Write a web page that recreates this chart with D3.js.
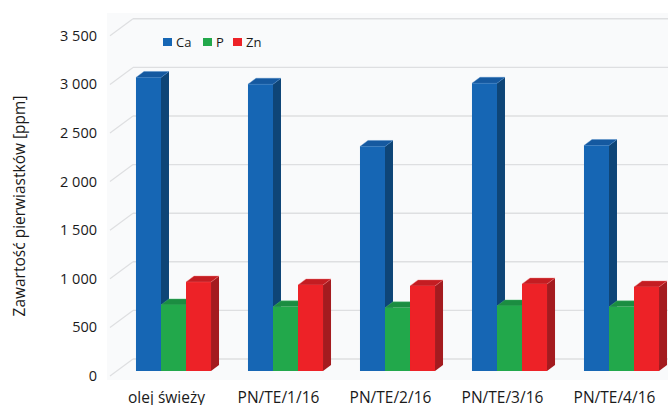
<!DOCTYPE html>
<html>
<head>
<meta charset="utf-8">
<script src="https://cdn.jsdelivr.net/npm/d3@7"></script>
<style>
  html, body { margin: 0; padding: 0; background: #ffffff; }
  svg { display: block; font-family: "Open Sans", "DejaVu Sans", sans-serif; }
</style>
</head>
<body>
<svg id="chart" width="668" height="405"></svg>
<script>
// Element content of oil samples [ppm]
const categories = ["olej świeży", "PN/TE/1/16", "PN/TE/2/16", "PN/TE/3/16", "PN/TE/4/16"];
const seriesNames = ["Ca", "P", "Zn"];
const caValues = [3020, 2950, 2310, 2960, 2320];
const pValues  = [680, 660, 650, 670, 660];
const znValues = [915, 885, 875, 895, 865];
const yTicks = [0, 500, 1000, 1500, 2000, 2500, 3000, 3500];

const series = [
  { name: "Ca", values: caValues, front: "#1666b4", side: "#0e4577", top: "#1559a0", edge: "#4a88c8" },
  { name: "P",  values: pValues,  front: "#22a84b", side: "#16733a", top: "#1b8d41", edge: "#5cc27a" },
  { name: "Zn", values: znValues, front: "#ed2227", side: "#a41b1f", top: "#c41d22", edge: "#f57a7c" }
];

const svg = d3.select("#chart");
const W = 668, H = 405;

// 3D projection: depth vector of the floor and the bar slab
const depth = { dx: 23, dy: -17 };      // full floor depth (front -> back wall)
const barFront = { dx: 7, dy: -5 };     // bars' front plane offset
const barDepth = { dx: 8, dy: -6 };     // bar thickness in depth

const frontLeft = 110;
const y = d3.scaleLinear().domain([0, 3500]).range([376, 376 - 7 * 48.6]);

const x = d3.scaleBand()
  .domain(categories)
  .range([117.5, 677.5])
  .paddingInner(0.33)
  .paddingOuter(0.165);

const xSeries = d3.scaleBand()
  .domain(seriesNames)
  .range([0, x.bandwidth()]);

const fmt = d3.formatLocale({ decimal: ",", thousands: " ", grouping: [3], currency: ["", " zł"] }).format(",d");

// plot area background
svg.append("rect")
  .attr("x", 107).attr("y", 13)
  .attr("width", W - 107).attr("height", 367)
  .attr("fill", "#f9fafb");

// back wall gridlines and side wall diagonals
const grid = svg.append("g");
yTicks.forEach(t => {
  const yy = y(t);
  grid.append("line")
    .attr("x1", frontLeft + depth.dx).attr("x2", W)
    .attr("y1", yy + depth.dy).attr("y2", yy + depth.dy)
    .attr("stroke", "#dedfe1").attr("stroke-width", 1.4);
  grid.append("line")
    .attr("x1", frontLeft).attr("y1", yy)
    .attr("x2", frontLeft + depth.dx).attr("y2", yy + depth.dy)
    .attr("stroke", "#dedfe1").attr("stroke-width", 1.2);
});

// tick labels
svg.append("g")
  .selectAll("text")
  .data(yTicks)
  .join("text")
  .attr("x", 97)
  .attr("y", d => y(d))
  .attr("dy", "0.35em")
  .attr("text-anchor", "end")
  .attr("font-size", 14.5)
  .attr("fill", "#1a1a1a")
  .text(d => fmt(d));

// bars
const bars = svg.append("g");
categories.forEach((cat, i) => {
  series.forEach(s => {
    const v = s.values[i];
    const x0 = x(cat) + xSeries(s.name);
    const w = xSeries.bandwidth();
    const yb = y(0) + barFront.dy;
    const yt = y(v) + barFront.dy;
    const g = bars.append("g");
    // right side face
    g.append("path")
      .attr("d", `M${x0 + w},${yt} L${x0 + w + barDepth.dx},${yt + barDepth.dy} L${x0 + w + barDepth.dx},${yb + barDepth.dy} L${x0 + w},${yb} Z`)
      .attr("fill", s.side);
    // top face
    g.append("path")
      .attr("d", `M${x0},${yt} L${x0 + barDepth.dx},${yt + barDepth.dy} L${x0 + w + barDepth.dx},${yt + barDepth.dy} L${x0 + w},${yt} Z`)
      .attr("fill", s.top)
      .attr("stroke", s.edge).attr("stroke-width", 0.4);
    // front face
    g.append("rect")
      .attr("x", x0).attr("y", yt)
      .attr("width", w).attr("height", yb - yt)
      .attr("fill", s.front);
  });
});

// category labels
svg.append("g")
  .selectAll("text")
  .data(categories)
  .join("text")
  .attr("x", d => x(d) + x.bandwidth() / 2 - barFront.dx)
  .attr("y", 403)
  .attr("text-anchor", "middle")
  .attr("font-size", 15.5)
  .attr("fill", "#1a1a1a")
  .text(d => d);

// y axis title
svg.append("text")
  .attr("transform", "translate(20,206) rotate(-90)")
  .attr("dy", "0.35em")
  .attr("text-anchor", "middle")
  .attr("font-size", 15.5)
  .attr("fill", "#1a1a1a")
  .text("Zawartość pierwiastków [ppm]");

// legend
const legend = svg.append("g").attr("transform", "translate(163,42)");
const legendX = [0, 40, 70];
series.forEach((s, k) => {
  const lg = legend.append("g").attr("transform", `translate(${legendX[k]},0)`);
  lg.append("rect").attr("x", 0).attr("y", -4).attr("width", 9).attr("height", 8).attr("fill", s.front);
  lg.append("text").attr("x", 13).attr("y", 0).attr("dy", "0.35em")
    .attr("font-size", 13).attr("fill", "#1a1a1a").text(s.name);
});
</script>
</body>
</html>
